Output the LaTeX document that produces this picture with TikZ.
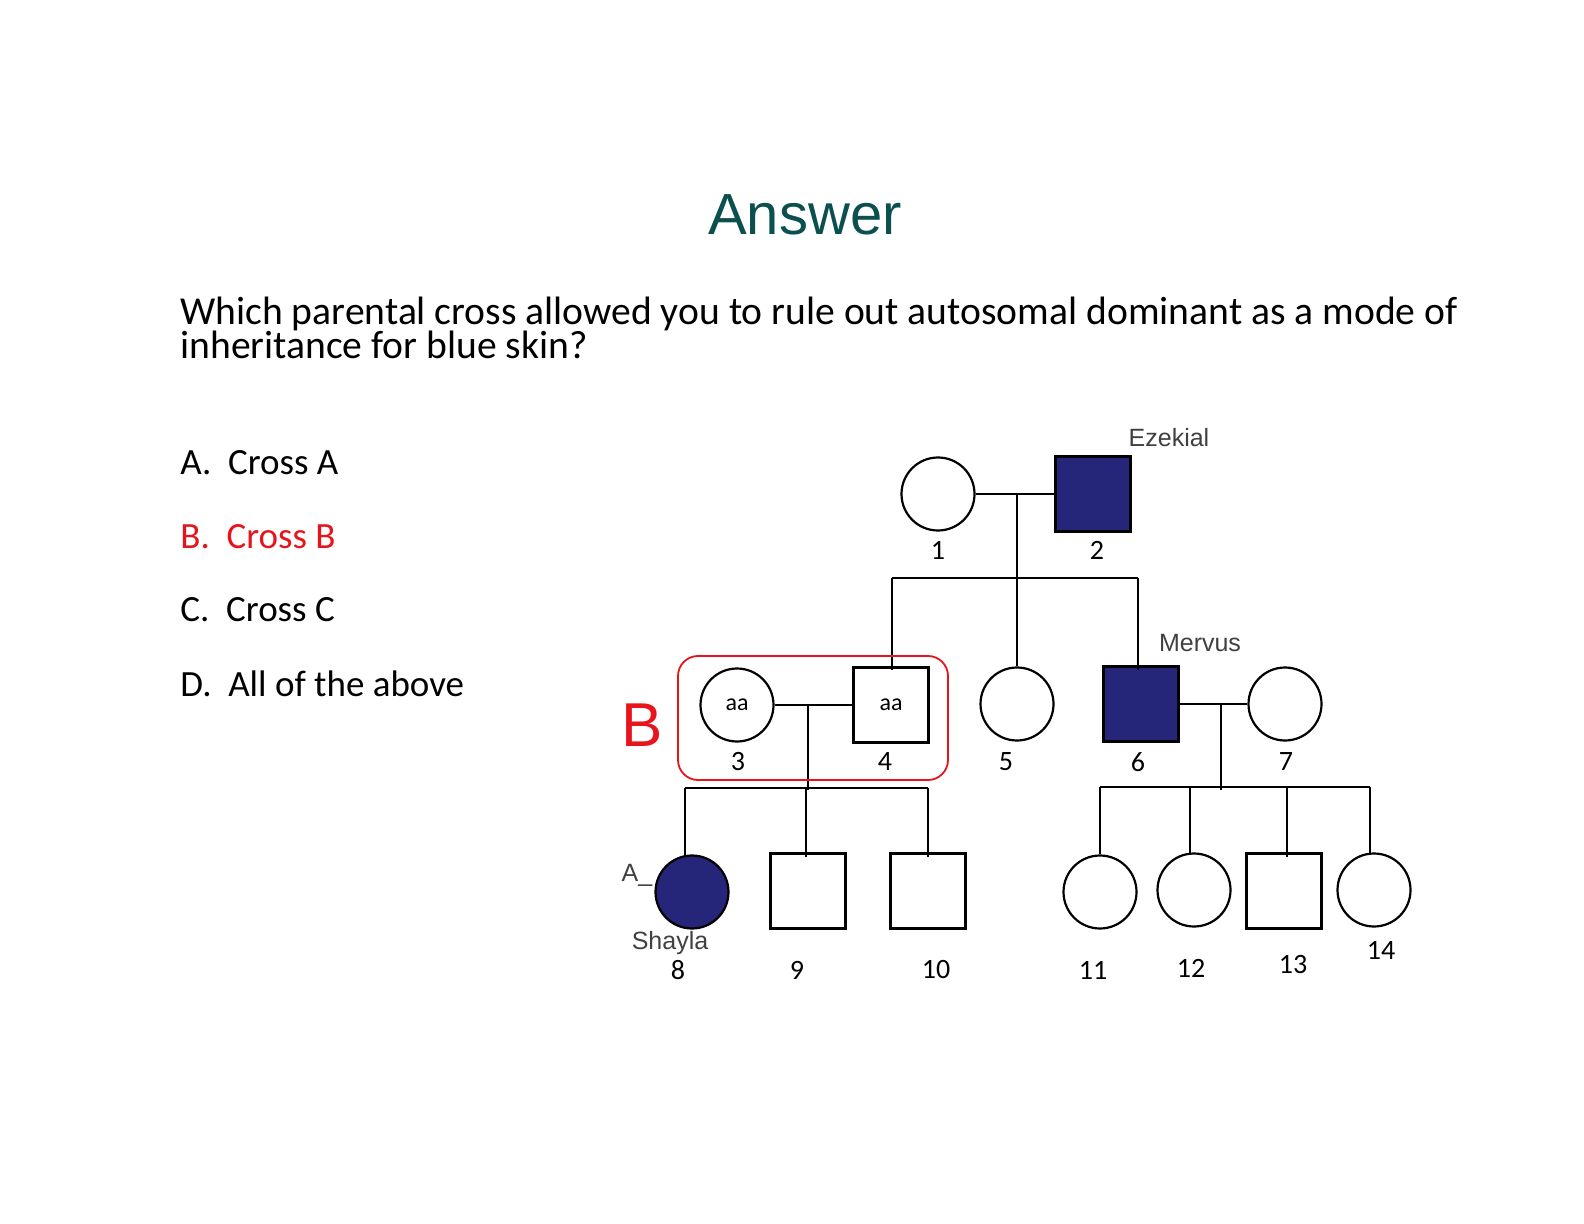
\documentclass[tikz,border=0pt]{standalone}
\usepackage{fontspec}
\setmainfont{Carlito}
\newfontfamily\arial{Liberation Sans}
\definecolor{teal0}{HTML}{0B4F4F}
\definecolor{navy0}{HTML}{25257A}
\definecolor{red0}{HTML}{E8141B}
\begin{document}
\begin{tikzpicture}[x=0.5pt,y=-0.5pt,
  ln/.style={line width=1.1pt,black},
  fem/.style={circle,draw,line width=1.1pt,minimum size=36.5pt,inner sep=0pt,font=\fontsize{12}{12}\selectfont},
  mal/.style={rectangle,draw,line width=1.1pt,minimum size=37.5pt,inner sep=0pt,font=\fontsize{12}{12}\selectfont},
  aff/.style={fill=navy0},
  num/.style={font=\fontsize{14}{14}\selectfont,inner sep=0pt},
  nm/.style={font=\arial\fontsize{12.5}{12.5}\selectfont,text=black!75,inner sep=0pt},
  opt/.style={anchor=west,font=\fontsize{18.5}{18.5}\selectfont,inner sep=0pt}]
\useasboundingbox (0,0) rectangle (1584,1224);
\node[font=\arial\fontsize{29}{29}\selectfont,text=teal0] (title) at (805,215) {Answer};
\node[anchor=north west,align=left,font=\fontsize{19.8}{17}\selectfont,inner sep=0pt] (q) at (180,297) {Which parental cross allowed you to rule out autosomal dominant as a mode of\\inheritance for blue skin?};
\node[opt] (oa) at (180,463) {A.\ \ Cross A};
\node[opt,text=red0] (ob) at (180,537) {B.\ \ Cross B};
\node[opt] (oc) at (180,610) {C.\ \ Cross C};
\node[opt] (od) at (180,684) {D.\ \ All of the above};
% gen 1
\node[fem] (p1) at (938,494) {};
\node[mal,aff] (p2) at (1093,494) {};
\draw[ln] (p1.east) -- (p2.west);
\coordinate (m1) at (1017,494);
\coordinate (s1) at (1017,578);
\draw[ln] (m1) -- (s1);
% gen 2
\node[fem] (p3) at (737,705) {aa};
\node[mal] (p4) at (891,705) {aa};
\node[fem] (p5) at (1017,704) {};
\node[mal,aff] (p6) at (1141,704) {};
\node[fem] (p7) at (1285,704) {};
\draw[ln] (892,578) -- (1138,578);
\draw[ln] (892,578) -- (892,670);
\draw[ln] (s1) -- (p5.north);
\draw[ln] (1138,578) -- (1138,670);
\draw[ln] (p3.east) -- (p4.west);
\draw[ln] (p6.east) -- (p7.west);
\coordinate (m2) at (808,705);
\coordinate (m3) at (1221,704);
\draw[ln] (m2) -- (808,790);
\draw[ln] (m3) -- (1221,790);
% gen 3
\node[fem,aff] (p8) at (692,892) {};
\node[mal] (p9) at (808,891) {};
\node[mal] (p10) at (928,891) {};
\node[fem] (p11) at (1100,892) {};
\node[fem] (p12) at (1194,890) {};
\node[mal] (p13) at (1284,891) {};
\node[fem] (p14) at (1374,890) {};
\draw[ln] (685,788) -- (928,788);
\draw[ln] (685,788) -- (685,857);
\draw[ln] (806,788) -- (806,857);
\draw[ln] (928,788) -- (928,857);
\draw[ln] (1100,787) -- (1370,787);
\draw[ln] (1100,787) -- (p11.north);
\draw[ln] (1190,787) -- (1190,855);
\draw[ln] (1287,787) -- (1287,857);
\draw[ln] (1370,787) -- (1370,855);
% box B
\node[draw=red0,line width=0.9pt,rounded corners=10pt,minimum width=135pt,minimum height=62pt] (boxb) at (813,718) {};
\node[text=red0,font=\arial\fontsize{31}{31}\selectfont] (lb) at (642,725) {B};
% labels
\node[num] (l1) at (938,550) {1};
\node[num] (l2) at (1097,550) {2};
\node[num] (l3) at (738,762) {3};
\node[num] (l4) at (885,762) {4};
\node[num] (l5) at (1006,762) {5};
\node[num] (l6) at (1138,762) {6};
\node[num] (l7) at (1286,762) {7};
\node[num] (l8) at (678,970) {8};
\node[num] (l9) at (797,970) {9};
\node[num] (l10) at (936,970) {10};
\node[num] (l11) at (1093,970) {11};
\node[num] (l12) at (1191,968) {12};
\node[num] (l13) at (1293,965) {13};
\node[num] (l14) at (1381,950) {14};
\node[nm] (ez) at (1169,438) {Ezekial};
\node[nm] (me) at (1200,643) {Mervus};
\node[nm] (sh) at (670,943) {Shayla};
\node[nm] (aa) at (637,875) {A\_};
\end{tikzpicture}
\end{document}
